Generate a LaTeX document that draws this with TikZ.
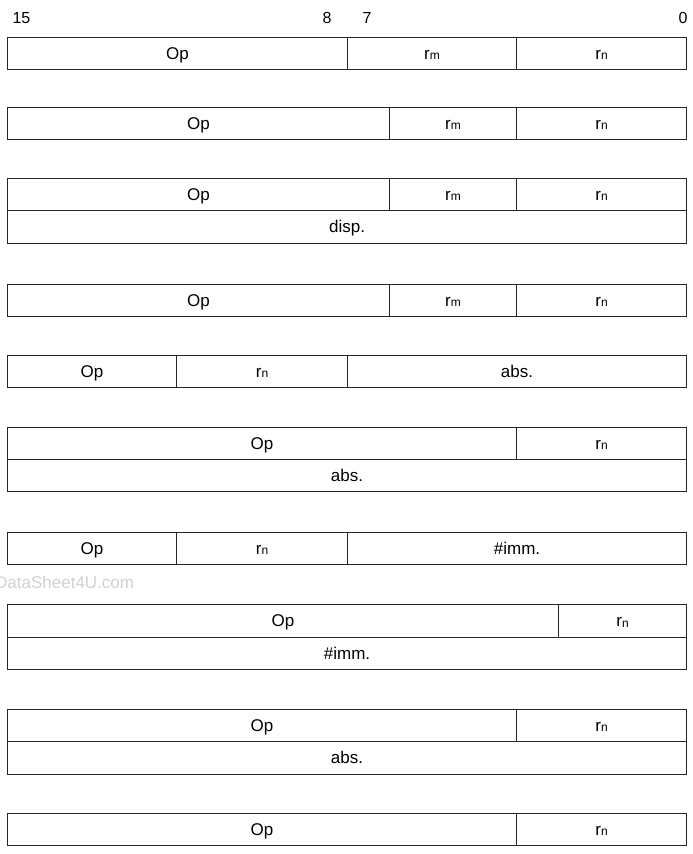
\documentclass[tikz,border=0pt]{standalone}
\usepackage{fontspec}
\setmainfont{Liberation Sans}
\newcommand{\rsub}[1]{r\raisebox{-0.5pt}{\fontsize{12}{14}\selectfont #1}}
\begin{document}
\begin{tikzpicture}[x=1pt,y=-1pt,
  cell/.style={draw=black!85, line width=1.1pt, inner sep=0pt, anchor=north west,
    minimum height=#1, text height=13.5pt, text depth=2.5pt, font=\fontsize{17}{19}\selectfont},
  cell/.default=32pt,
  bitnum/.style={font=\fontsize{16}{18}\selectfont, inner sep=0pt},
  wmark/.style={font=\fontsize{17}{19}\selectfont, text=black!18, inner sep=0pt, anchor=west}]
\useasboundingbox (0,0) rectangle (693,854);
% bit numbers
\node[bitnum] (b15) at (21.5,18) {15};
\node[bitnum] (b8) at (327,18) {8};
\node[bitnum] (b7) at (367,18) {7};
\node[bitnum] (b0) at (683,18) {0};
% Row 1
\node[cell, minimum width=340pt] (r1op) at (7,37) {Op};
\node[cell, minimum width=169pt] (r1rm) at (347,37) {\rsub{m}};
\node[cell, minimum width=170pt] (r1rn) at (516,37) {\rsub{n}};
% Row 2
\node[cell, minimum width=382pt] (r2op) at (7,107) {Op};
\node[cell, minimum width=127pt] (r2rm) at (389,107) {\rsub{m}};
\node[cell, minimum width=170pt] (r2rn) at (516,107) {\rsub{n}};
% Row 3
\node[cell, minimum width=382pt] (r3op) at (7,178) {Op};
\node[cell, minimum width=127pt] (r3rm) at (389,178) {\rsub{m}};
\node[cell, minimum width=170pt] (r3rn) at (516,178) {\rsub{n}};
\node[cell=33pt, minimum width=679pt] (r3d) at (7,210) {disp.};
% Row 4
\node[cell, minimum width=382pt] (r4op) at (7,284) {Op};
\node[cell, minimum width=127pt] (r4rm) at (389,284) {\rsub{m}};
\node[cell, minimum width=170pt] (r4rn) at (516,284) {\rsub{n}};
% Row 5
\node[cell, minimum width=169pt] (r5op) at (7,355) {Op};
\node[cell, minimum width=171pt] (r5rn) at (176,355) {\rsub{n}};
\node[cell, minimum width=339pt] (r5abs) at (347,355) {abs.};
% Row 6
\node[cell, minimum width=509pt] (r6op) at (7,427) {Op};
\node[cell, minimum width=170pt] (r6rn) at (516,427) {\rsub{n}};
\node[cell, minimum width=679pt] (r6abs) at (7,459) {abs.};
% Row 7
\node[cell, minimum width=169pt] (r7op) at (7,532) {Op};
\node[cell, minimum width=171pt] (r7rn) at (176,532) {\rsub{n}};
\node[cell, minimum width=339pt] (r7imm) at (347,532) {\#imm.};
% watermark
\node[wmark] (wm) at (-5,582) {DataSheet4U.com};
% Row 8
\node[cell=33pt, minimum width=551pt] (r8op) at (7,604) {Op};
\node[cell=33pt, minimum width=128pt] (r8rn) at (558,604) {\rsub{n}};
\node[cell, minimum width=679pt] (r8imm) at (7,637) {\#imm.};
% Row 9
\node[cell, minimum width=509pt] (r9op) at (7,709) {Op};
\node[cell, minimum width=170pt] (r9rn) at (516,709) {\rsub{n}};
\node[cell=33pt, minimum width=679pt] (r9abs) at (7,741) {abs.};
% Row 10
\node[cell, minimum width=509pt] (r10op) at (7,813) {Op};
\node[cell, minimum width=170pt] (r10rn) at (516,813) {\rsub{n}};
\end{tikzpicture}
\end{document}
